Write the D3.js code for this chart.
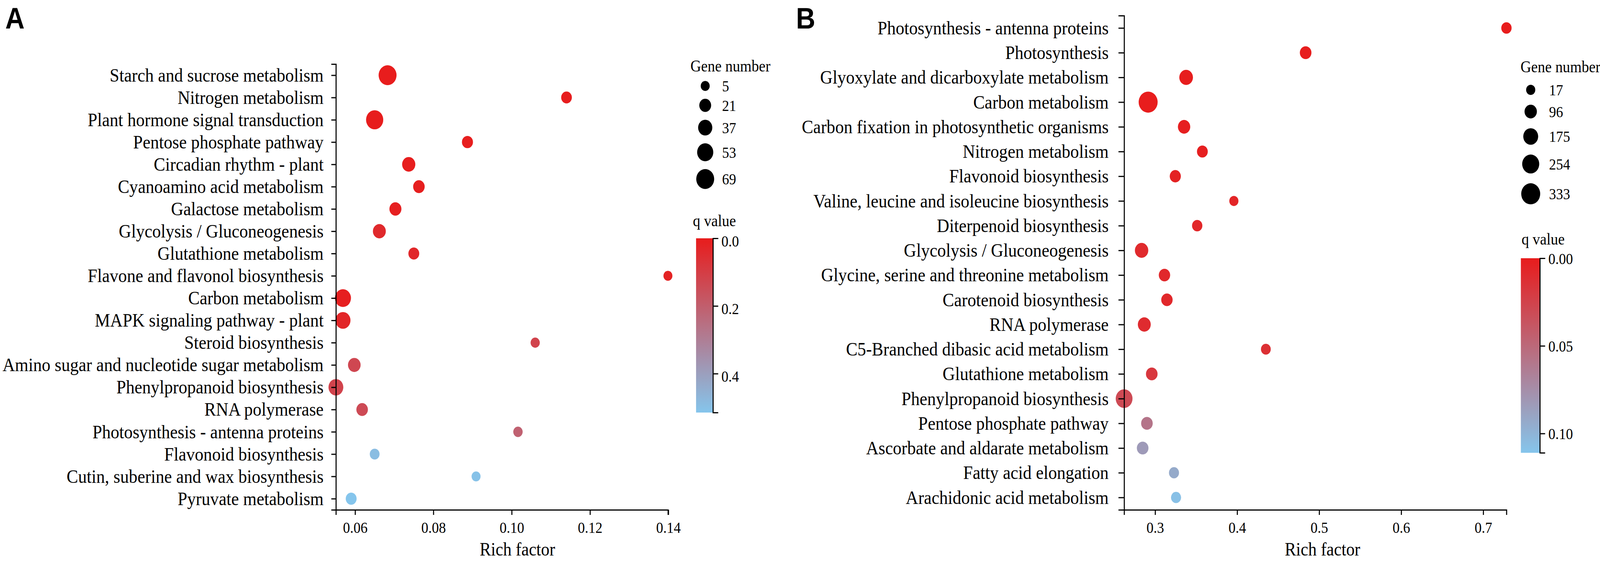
<!DOCTYPE html>
<html>
<head>
<meta charset="utf-8">
<script src="https://cdn.jsdelivr.net/npm/d3@7"></script>
<style>
  html, body { margin: 0; padding: 0; background: #fff; width: 100%; height: 100%; overflow: hidden; }
  svg { display: block; width: 100vw; height: 100vh; }
  text { font-family: "Liberation Serif", "Times New Roman", serif; fill: #000; }
</style>
</head>
<body>
<svg id="chart" viewBox="0 0 4549 1436" preserveAspectRatio="none"></svg>
<script>
// ---------------- DATA ----------------
const catsA = ["Starch and sucrose metabolism","Nitrogen metabolism","Plant hormone signal transduction","Pentose phosphate pathway","Circadian rhythm - plant","Cyanoamino acid metabolism","Galactose metabolism","Glycolysis / Gluconeogenesis","Glutathione metabolism","Flavone and flavonol biosynthesis","Carbon metabolism","MAPK signaling pathway - plant","Steroid biosynthesis","Amino sugar and nucleotide sugar metabolism","Phenylpropanoid biosynthesis","RNA polymerase","Photosynthesis - antenna proteins","Flavonoid biosynthesis","Cutin, suberine and wax biosynthesis","Pyruvate metabolism"];
const richA = [0.0683,0.1140,0.0650,0.0887,0.0737,0.0763,0.0703,0.0662,0.0750,0.1399,0.0569,0.0569,0.1060,0.0598,0.0551,0.0618,0.1016,0.0650,0.0909,0.0590];
const geneA = [69,14,62,16,30,19,22,28,15,5,52,44,6,26,42,19,7,9,5,15];
const qA    = [0.002,0.004,0.003,0.006,0.006,0.008,0.012,0.040,0.035,0.020,0.010,0.030,0.120,0.130,0.120,0.140,0.210,0.490,0.505,0.515];

const catsB = ["Photosynthesis - antenna proteins","Photosynthesis","Glyoxylate and dicarboxylate metabolism","Carbon metabolism","Carbon fixation in photosynthetic organisms","Nitrogen metabolism","Flavonoid biosynthesis","Valine, leucine and isoleucine biosynthesis","Diterpenoid biosynthesis","Glycolysis / Gluconeogenesis","Glycine, serine and threonine metabolism","Carotenoid biosynthesis","RNA polymerase","C5-Branched dibasic acid metabolism","Glutathione metabolism","Phenylpropanoid biosynthesis","Pentose phosphate pathway","Ascorbate and aldarate metabolism","Fatty acid elongation","Arachidonic acid metabolism"];
const richB = [0.7283,0.4835,0.3378,0.2915,0.3353,0.3576,0.3246,0.3960,0.3513,0.2835,0.3114,0.3144,0.2868,0.4350,0.2959,0.2622,0.2900,0.2848,0.3230,0.3255];
const geneB = [43,75,135,333,96,55,62,17,43,126,69,69,112,31,75,243,75,75,37,37];
const qB    = [0.0005,0.001,0.001,0.0005,0.002,0.002,0.004,0.006,0.007,0.009,0.008,0.008,0.010,0.013,0.018,0.030,0.058,0.083,0.093,0.108];

const sizeBreaksA = [5,21,37,53,69];
const sizeBreaksB = [17,96,175,254,333];
const qTicksA = [0, 0.2, 0.4];
const qTicksB = [0, 0.05, 0.10];
const xTicksA = [0.06, 0.08, 0.10, 0.12, 0.14];
const xTicksB = [0.3, 0.4, 0.5, 0.6, 0.7];
const qMaxA = 0.515, qMaxB = 0.111;

const LOW = "#e81c1c", HIGH = "#85c5ec";

// ---------------- DRAW ----------------
const svg = d3.select("#chart");

function panel(cfg) {
  const g = svg.append("g");
  const x = d3.scaleLinear().domain(d3.extent(cfg.rich)).range([cfg.x0, cfg.x1]);
  const y = d3.scalePoint().domain(cfg.cats).range([cfg.y0, cfg.y1]).padding(0.5);
  const r = d3.scaleRadial().domain(d3.extent(cfg.breaks)).range(cfg.rRange);
  const c = d3.scaleLinear().domain([0, cfg.qMax]).range([LOW, HIGH]).interpolate(d3.interpolateRgb);

  const data = cfg.cats.map((k, i) => ({cat: k, rich: cfg.rich[i], gene: cfg.gene[i], q: cfg.q[i]}));

  // points
  g.append("g").selectAll("circle").data(data).join("circle")
    .attr("cx", d => x(d.rich)).attr("cy", d => y(d.cat))
    .attr("r", d => r(d.gene)).attr("fill", d => c(d.q));

  // y axis
  const ya = g.append("g").attr("transform", `translate(${cfg.x0},0)`)
    .call(d3.axisLeft(y).tickSize(cfg.tick).tickPadding(cfg.yPad));
  ya.selectAll("text").style("font-size", "49px");
  // x axis
  const xa = g.append("g").attr("transform", `translate(0,${cfg.y1})`)
    .call(d3.axisBottom(x).tickValues(cfg.xTicks).tickFormat(d3.format(cfg.xFmt)).tickSize(13).tickPadding(18));
  xa.selectAll("text").style("font-size", "40px");
  [ya, xa].forEach(a => { a.selectAll("path,line").attr("stroke", "#000").attr("stroke-width", 3); });

  g.append("text").attr("x", cfg.titleX).attr("y", 1422).attr("text-anchor", "middle")
    .style("font-size", "48px").text("Rich factor");

  // panel letter
  g.append("text").attr("x", cfg.letterX).attr("y", 73)
    .style("font-family", "'Liberation Sans', Arial, sans-serif").style("font-weight", "bold")
    .style("font-size", "76px").text(cfg.letter);

  // size legend
  const L = cfg.leg;
  g.append("text").attr("x", L.x).attr("y", L.titleY).style("font-size", "42px").text("Gene number");
  let yy = L.firstY;
  const pos = cfg.breaks.map((b, i) => {
    if (i > 0) yy += r(cfg.breaks[i - 1]) + r(b) + L.gap;
    return yy;
  });
  const lg = g.append("g");
  lg.selectAll("circle").data(cfg.breaks).join("circle")
    .attr("cx", L.cx).attr("cy", (d, i) => pos[i]).attr("r", d => r(d)).attr("fill", "#000");
  lg.selectAll("text").data(cfg.breaks).join("text")
    .attr("x", L.lx).attr("y", (d, i) => pos[i]).attr("dy", "0.35em")
    .style("font-size", "40px").text(d => d);

  // colour bar
  const B = cfg.bar;
  g.append("text").attr("x", B.titleX).attr("y", B.titleY).style("font-size", "42px").text("q value");
  const gid = "grad" + cfg.letter;
  const grad = svg.append("defs").append("linearGradient").attr("id", gid)
    .attr("x1", 0).attr("y1", 0).attr("x2", 0).attr("y2", 1);
  d3.range(0, 1.0001, 0.1).forEach(t => {
    grad.append("stop").attr("offset", t).attr("stop-color", c(t * cfg.qMax));
  });
  g.append("rect").attr("x", B.x).attr("y", B.y0).attr("width", B.w).attr("height", B.y1 - B.y0)
    .attr("fill", `url(#${gid})`);
  const qs = d3.scaleLinear().domain([0, cfg.qMax]).range([B.y0, B.y1]);
  const qa = g.append("g").attr("transform", `translate(${B.x + B.w},0)`)
    .call(d3.axisRight(qs).tickValues(cfg.qTicks).tickFormat(d3.format(cfg.qFmt)).tickSize(15).tickPadding(9));
  qa.selectAll("path,line").attr("stroke", "#000").attr("stroke-width", 3);
  qa.selectAll("text").style("font-size", "40px").attr("dy", B.dy);
}

panel({
  letter: "A", letterX: 15,
  cats: catsA, rich: richA, gene: geneA, q: qA, qMax: qMaxA,
  breaks: sizeBreaksA, rRange: [12.75, 25.5],
  x0: 955, x1: 1899, y0: 164, y1: 1305, tick: 13, yPad: 22,
  xTicks: xTicksA, xFmt: ".2f", titleX: 1471,
  leg: {x: 1963, titleY: 183, firstY: 220, cx: 2005, lx: 2053, gap: 20},
  bar: {titleX: 1970, titleY: 579, x: 1979, w: 48, y0: 610, y1: 1056, dy: "0.5em"},
  qTicks: qTicksA, qFmt: ".1f"
});

panel({
  letter: "B", letterX: 2263,
  cats: catsB, rich: richB, gene: geneB, q: qB, qMax: qMaxB,
  breaks: sizeBreaksB, rRange: [13, 27],
  x0: 3196, x1: 4283, y0: 40, y1: 1305, tick: 16, yPad: 28,
  xTicks: xTicksB, xFmt: ".1f", titleX: 3760,
  leg: {x: 4323, titleY: 185, firstY: 230, cx: 4352, lx: 4404, gap: 25},
  bar: {titleX: 4326, titleY: 626, x: 4324, w: 54, y0: 661, y1: 1159, dy: "0.35em"},
  qTicks: qTicksB, qFmt: ".2f"
});
</script>
</body>
</html>
